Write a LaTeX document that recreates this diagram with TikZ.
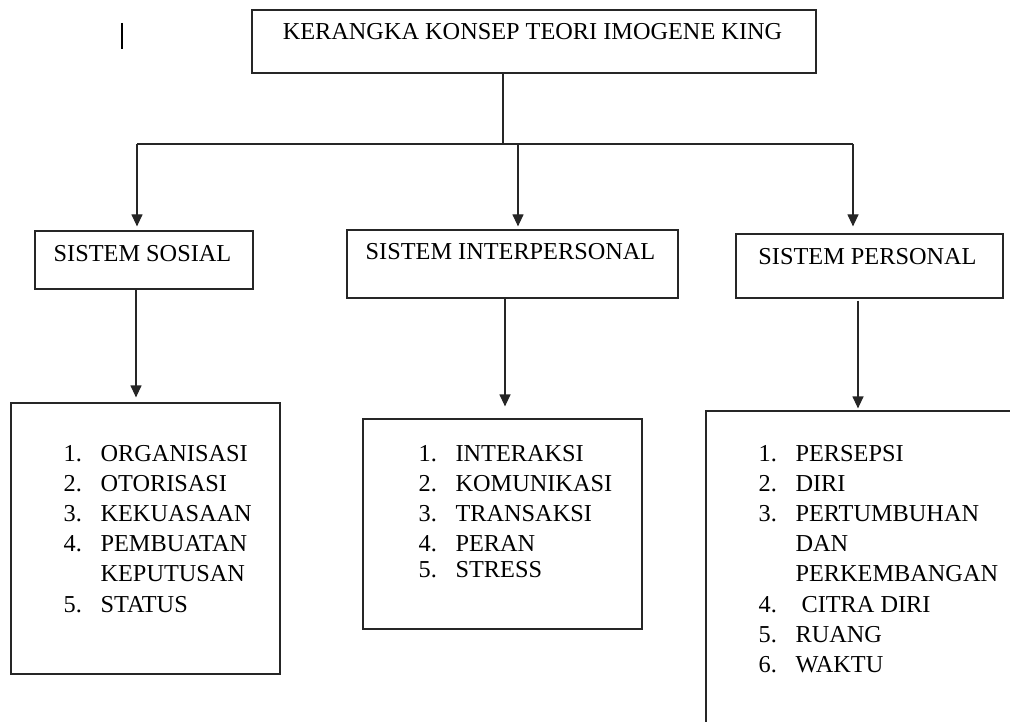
\documentclass[tikz,border=0pt]{standalone}
\usepackage{fontspec}
\setmainfont{Liberation Serif}
\usetikzlibrary{arrows.meta}
% one numbered entry: number in a fixed-width slot, then the label
\newcommand\itm[2]{\makebox[37pt][l]{#1}#2}
\begin{document}
\begin{tikzpicture}[x=1pt,y=-1pt,
  line width=1.2pt,
  box/.style={draw=black!85, line width=1.2pt, rectangle, inner sep=0pt},
  lbl/.style={inner sep=0pt, anchor=base, font=\fontsize{24.3}{30.2}\selectfont},
  lst/.style={inner sep=0pt, anchor=base west, font=\fontsize{24.3}{30.2}\selectfont},
  link/.style={draw=black!85, line width=1.2pt},
  arr/.style={link, -{Triangle[width=11pt,length=12pt]}}]
\useasboundingbox (0,0) rectangle (1010,722);
\clip (0,0) rectangle (1010,722);

% stray cursor mark
\draw[line width=1.4pt] (122,23) -- (122,49);

% title box
\node[box, minimum width=564pt, minimum height=63pt] (top) at (534,41.5) {};
\node[lbl] (toptxt) at (532.5,40) {KERANGKA KONSEP TEORI IMOGENE KING};

% the three systems
\node[box, minimum width=218pt, minimum height=58pt] (sosial) at (144,260) {};
\node[lbl] (sosialtxt) at (142.5,262) {SISTEM SOSIAL};
\node[box, minimum width=331pt, minimum height=68pt] (inter) at (512.5,264) {};
\node[lbl] (intertxt) at (510.5,260) {SISTEM INTERPERSONAL};
\node[box, minimum width=267pt, minimum height=64pt] (pers) at (869.5,266) {};
\node[lbl] (perstxt) at (867.5,265) {SISTEM PERSONAL};

% concept lists
\node[box, minimum width=269pt, minimum height=271pt] (l1) at (145.5,538.5) {};
\node[lst] (l1txt) at (63,461) {\begin{tabular}[t]{@{}l@{}}
\itm{1.}{ORGANISASI}\\
\itm{2.}{OTORISASI}\\
\itm{3.}{KEKUASAAN}\\
\itm{4.}{PEMBUATAN}\\
\itm{}{KEPUTUSAN}\\
\itm{5.}{STATUS}
\end{tabular}};

\node[box, minimum width=279pt, minimum height=210pt] (l2) at (502.5,524) {};
\node[lst] (l2txt) at (418,461) {\begin{tabular}[t]{@{}l@{}}
\itm{1.}{INTERAKSI}\\
\itm{2.}{KOMUNIKASI}\\
\itm{3.}{TRANSAKSI}\\
\itm{4.}{PERAN}\\[-4pt]
\itm{5.}{STRESS}
\end{tabular}};

\node[box, minimum width=320pt, minimum height=330pt] (l3) at (866,576) {};
\node[lst] (l3txt) at (758,461) {\begin{tabular}[t]{@{}l@{}}
\itm{1.}{PERSEPSI}\\
\itm{2.}{DIRI}\\
\itm{3.}{PERTUMBUHAN}\\
\itm{}{DAN}\\
\itm{}{PERKEMBANGAN}\\
\itm{4.}{\hspace{6pt}CITRA DIRI}\\
\itm{5.}{RUANG}\\
\itm{6.}{WAKTU}
\end{tabular}};

% trunk and bus
\coordinate (bus) at (503,144);
\coordinate (busL) at (137,144);
\coordinate (busM) at (518,144);
\coordinate (busR) at (853,144);
\draw[link] (top.south -| bus) -- (bus);
\draw[link] (busL) -- (busR);
\draw[arr, shorten >=4pt] (busL) -- (sosial.north -| busL);
\draw[arr, shorten >=3pt] (busM) -- (inter.north -| busM);
\draw[arr, shorten >=7pt] (busR) -- (pers.north -| busR);

% systems to their lists
\coordinate (dL) at (136,0);
\coordinate (dM) at (505,0);
\coordinate (dR) at (858,0);
\draw[arr, shorten >=5pt] (sosial.south -| dL) -- (l1.north -| dL);
\draw[arr, shorten >=12pt] (inter.south -| dM) -- (l2.north -| dM);
\draw[arr, shorten >=2pt] ([yshift=-2pt]pers.south -| dR) -- (l3.north -| dR);
\end{tikzpicture}
\end{document}
